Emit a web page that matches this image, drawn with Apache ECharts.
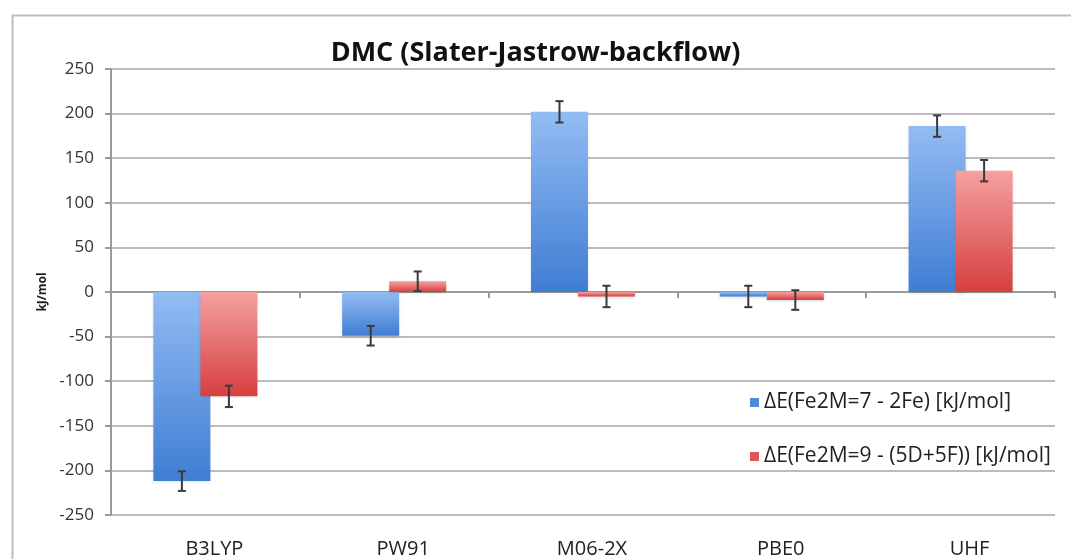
<!DOCTYPE html>
<html>
<head>
<meta charset="utf-8">
<script src="https://cdn.jsdelivr.net/npm/echarts@6/dist/echarts.min.js"></script>
<style>
html,body{margin:0;padding:0;background:#fff;}
#chart{width:1071px;height:559px;}
</style>
</head>
<body>
<div id="chart"></div>
<script>
const categories = ['B3LYP', 'PW91', 'M06-2X', 'PBE0', 'UHF'];
const seriesNames = ['ΔE(Fe2M=7 - 2Fe) [kJ/mol]', 'ΔE(Fe2M=9 - (5D+5F)) [kJ/mol]'];
const blueValues = [-212, -49, 202, -5, 186];
const blueErrors = [11, 11, 12, 12, 12];
const redValues = [-117, 12, -5, -9, 136];
const redErrors = [12, 11, 12, 11, 12];
const yTicks = {min: -250, max: 250, interval: 50};
const titleText = 'DMC (Slater-Jastrow-backflow)';
const yName = 'kJ/mol';

const FONT = '"Open Sans", sans-serif';
const BAR_W = 57;
const BAR_OVERLAP = 10;

function grad(top, bottom) {
  return new echarts.graphic.LinearGradient(0, 0, 0, 1, [
    {offset: 0, color: top}, {offset: 1, color: bottom}
  ]);
}

function errorSeries(values, errors, side) {
  return {
    type: 'custom',
    xAxisIndex: 0,
    yAxisIndex: 0,
    silent: true,
    z: 10,
    data: values.map((v, i) => [i, v, errors[i]]),
    renderItem: function (params, api) {
      const i = api.value(0), v = api.value(1), e = api.value(2);
      const off = side * (BAR_W - BAR_OVERLAP) / 2;
      const hi = api.coord([i, v + e]);
      const lo = api.coord([i, v - e]);
      const x = hi[0] + off;
      const cap = 4;
      const st = {stroke: '#3a3a3a', lineWidth: 2};
      return {
        type: 'group',
        children: [
          {type: 'line', shape: {x1: x, y1: hi[1], x2: x, y2: lo[1]}, style: st},
          {type: 'line', shape: {x1: x - cap, y1: hi[1], x2: x + cap, y2: hi[1]}, style: st},
          {type: 'line', shape: {x1: x - cap, y1: lo[1], x2: x + cap, y2: lo[1]}, style: st}
        ]
      };
    }
  };
}

const chart = echarts.init(document.getElementById('chart'), null, {renderer: 'canvas'});
chart.setOption({
  animation: false,
  backgroundColor: '#ffffff',
  textStyle: {fontFamily: FONT},
  graphic: [{
    type: 'rect',
    left: 10, top: 13,
    shape: {width: 1200, height: 700},
    style: {fill: 'none', stroke: '#bdbdbd', lineWidth: 2},
    silent: true, z: -10
  }],
  title: {
    text: titleText,
    left: 'center',
    top: 35,
    textStyle: {fontFamily: FONT, fontSize: 27, fontWeight: 'bold', color: '#111'}
  },
  legend: {
    orient: 'vertical',
    left: 745,
    top: 387,
    itemGap: 33,
    itemWidth: 9,
    itemHeight: 9,
    icon: 'rect',
    textStyle: {fontFamily: FONT, fontSize: 21, color: '#222'},
    data: [
      {name: seriesNames[0], itemStyle: {color: '#4d89dc'}},
      {name: seriesNames[1], itemStyle: {color: '#e05555'}}
    ]
  },
  grid: {left: 111, right: 16, top: 69, bottom: 42, containLabel: false},
  xAxis: [{
    type: 'category',
    data: categories,
    position: 'bottom',
    axisLine: {onZero: true, lineStyle: {color: '#9a9a9a', width: 2}},
    axisTick: {show: true, length: 6, lineStyle: {color: '#9a9a9a', width: 2}},
    axisLabel: {show: false},
    splitLine: {show: false}
  }, {
    type: 'category',
    data: categories,
    position: 'bottom',
    axisLine: {show: false, onZero: false},
    axisTick: {show: false},
    axisLabel: {show: true, margin: 24, fontFamily: FONT, fontSize: 20, color: '#222', padding: [0, 0, 0, 18]},
    splitLine: {show: false}
  }],
  yAxis: {
    type: 'value',
    min: yTicks.min,
    max: yTicks.max,
    interval: yTicks.interval,
    name: yName,
    nameLocation: 'middle',
    nameGap: 60,
    nameRotate: 90,
    nameTextStyle: {fontFamily: FONT, fontSize: 12, fontWeight: 'bold', color: '#222'},
    axisLine: {show: true, lineStyle: {color: '#9a9a9a', width: 2}},
    axisTick: {show: true, length: 6, lineStyle: {color: '#9a9a9a', width: 2}},
    axisLabel: {fontFamily: FONT, fontSize: 17, color: '#333', margin: 17},
    splitLine: {show: true, lineStyle: {color: '#bcbcbc', width: 2}}
  },
  series: [{
    name: seriesNames[0],
    type: 'bar',
    xAxisIndex: 0,
    data: blueValues,
    barWidth: BAR_W,
    barGap: (-BAR_OVERLAP / BAR_W * 100).toFixed(1) + '%',
    itemStyle: {
      color: grad('#93bcf3', '#3f7dd3'),
      shadowColor: 'rgba(0,0,0,0.15)', shadowBlur: 3, shadowOffsetY: 1
    },
    z: 2
  }, {
    name: seriesNames[1],
    type: 'bar',
    xAxisIndex: 0,
    data: redValues,
    barWidth: BAR_W,
    barGap: (-BAR_OVERLAP / BAR_W * 100).toFixed(1) + '%',
    itemStyle: {
      color: grad('#f5a0a0', '#d63f3f'),
      shadowColor: 'rgba(0,0,0,0.15)', shadowBlur: 3, shadowOffsetY: 1
    },
    z: 3
  },
  errorSeries(blueValues, blueErrors, -1),
  errorSeries(redValues, redErrors, 1)
  ]
});
</script>
</body>
</html>
